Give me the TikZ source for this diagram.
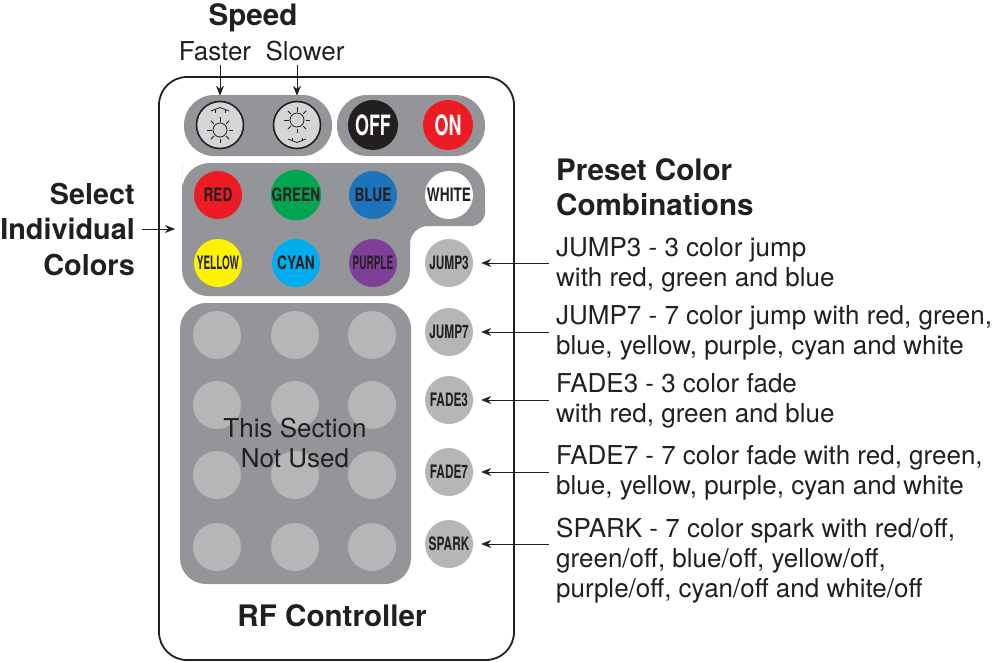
\documentclass[tikz,border=0pt]{standalone}
\usepackage{fontspec}
\usetikzlibrary{arrows.meta}
\setmainfont{TeX Gyre Heros}
\newfontfamily\condfont[FakeStretch=0.74]{TeX Gyre Heros}
\newfontfamily\tightfont[FakeStretch=0.64]{TeX Gyre Heros}
\newfontfamily\tightestfont[FakeStretch=0.54]{TeX Gyre Heros}
\definecolor{panelgray}{HTML}{939598}
\definecolor{keygray}{HTML}{B5B6B8}
\definecolor{sungray}{HTML}{D4D5D6}
\definecolor{textdark}{HTML}{231F20}
\definecolor{keyred}{HTML}{ED1C24}
\definecolor{keygreen}{HTML}{00A651}
\definecolor{keyblue}{HTML}{1C75BC}
\definecolor{keyyellow}{HTML}{FFF200}
\definecolor{keycyan}{HTML}{00AEEF}
\definecolor{keypurple}{HTML}{7F3F98}
\tikzset{
    key/.style={circle,minimum size=48pt,inner sep=0pt,fill=keygray,text=textdark,font=\tightfont\bfseries\fontsize{18.5}{18.5}\selectfont},
    wide key/.style={key,font=\condfont\bfseries\fontsize{18.5}{18.5}\selectfont},
    narrow key/.style={key,font=\tightestfont\bfseries\fontsize{18.5}{18.5}\selectfont},
    blank/.style={circle,minimum size=48pt,inner sep=0pt,fill=keygray},
    sun/.style={circle,minimum size=47pt,inner sep=0pt,fill=sungray,draw=textdark,line width=1.6pt},
    power/.style={circle,minimum size=50pt,inner sep=0pt,text=white,font=\tightfont\bfseries\fontsize{28}{28}\selectfont},
    heading/.style={font=\bfseries\fontsize{29.6}{35}\selectfont,text=textdark},
    label/.style={text=textdark,font=\fontsize{26}{26}\selectfont},
    note/.style={align=left,anchor=west,inner sep=0pt,text=textdark,font=\fontsize{26}{30}\selectfont},
    pointer/.style={-{Stealth[length=10pt,width=8pt]},line width=0.9pt,textdark},
}
\newcommand{\sunmark}[2]{% centre of the sun, then the side of the bracket
    \draw[textdark,line width=0.8pt] (#1) ++(0,-#2*5) circle (7);
    \foreach \ang in {0,45,...,315}
        \draw[textdark,line width=0.8pt] (#1) ++(0,-#2*5) ++(\ang:8.5) -- ++(\ang:4.5);
    \draw[textdark,line width=0.8pt] (#1) ++(-9,#2*14) -- ++(9,#2*3.5) -- ++(9,-#2*3.5);
    \draw[textdark,line width=0.8pt] (#1) ++(-5,#2*15.5) -- ++(0,-#2*3) ++(10,#2*3) -- ++(0,-#2*3);
}
\begin{document}
\begin{tikzpicture}[x=1pt,y=-1pt]
    \useasboundingbox (0,0) rectangle (1000,661);
    % controller body
    \draw[textdark,line width=1.8pt,rounded corners=28pt,fill=white] (159,77) rectangle (514,660);
    \fill[panelgray,rounded corners=30pt] (184,95) rectangle (332,156);
    \fill[panelgray,rounded corners=30pt] (337,95) rectangle (485,156);
    \fill[panelgray,rounded corners=28pt] (182,190) -- (182,163) -- (485,163) [rounded corners=14pt] -- (485,226)
        [rounded corners=18pt] -- (410,226) [rounded corners=26pt] -- (410,296) -- (182,296) -- cycle;
    \fill[panelgray,rounded corners=26pt] (180,303) rectangle (411,584);

    \node[sun] (faster) at (220,125) {};
    \node[sun] (slower) at (297,125) {};
    \sunmark{faster.center}{-1}
    \sunmark{slower.center}{1}
    \node[power,fill=textdark] (off) at (373,125) {OFF};
    \node[power,fill=keyred] (on) at (448,125) {ON};

    \node[wide key,fill=keyred] (red) at (218,195) {RED};
    \node[wide key,fill=keygreen] (green) at (296,195) {GREEN};
    \node[wide key,fill=keyblue] (blue) at (373,195) {BLUE};
    \node[wide key,fill=white] (white) at (449,195) {WHITE};
    \node[narrow key,fill=keyyellow] (yellow) at (218,263) {YELLOW};
    \node[wide key,fill=keycyan] (cyan) at (296,263) {CYAN};
    \node[narrow key,fill=keypurple] (purple) at (373,263) {PURPLE};

    \node[key] (jump3) at (449,263) {JUMP3};
    \node[key] (jump7) at (449,332) {JUMP7};
    \node[key] (fade3) at (449,400) {FADE3};
    \node[key] (fade7) at (449,472) {FADE7};
    \node[key] (spark) at (449,544) {SPARK};

    % unused keys
    \foreach \y [count=\r] in {335,405,475,547}
        \foreach \x [count=\c] in {217,295,372}
            \node[blank] (unused\r\c) at (\x,\y) {};
    \node[align=center,text=textdark,font=\fontsize{26}{30}\selectfont] (unused) at (295,443) {This Section\\Not Used};
    \node[heading] (rf) at (332,616) {RF Controller};

    % speed labels
    \node[heading] (speed) at (253,18) {Speed};
    \node[label] (fasterlabel) at (215,51) {Faster};
    \node[label] (slowerlabel) at (305,51) {Slower};
    \coordinate (fasterstart) at (220,65);
    \coordinate (slowerstart) at (297,65);
    \draw[pointer,shorten >=5pt] (fasterstart) -- (faster.north);
    \draw[pointer,shorten >=5pt] (slowerstart) -- (slower.north);

    % colour selection label
    \node[heading,align=right,anchor=east,inner sep=0pt,font=\bfseries\fontsize{28.8}{35.5}\selectfont] (select) at (135,229) {Select\\Individual\\Colors};
    \coordinate (selectstart) at (142,229);
    \coordinate (selectend) at (175,229);
    \draw[pointer] (selectstart) -- (selectend);

    % presets
    \node[heading,align=left,anchor=west,inner sep=0pt,font=\bfseries\fontsize{29.6}{35}\selectfont] (preset) at (556,187) {Preset Color\\Combinations};
    \node[note] (jump3text) at (556,265) {JUMP3 - 3 color jump\\with red, green and blue};
    \node[note] (jump7text) at (556,333) {JUMP7 - 7 color jump with red, green,\\blue, yellow, purple, cyan and white};
    \node[note] (fade3text) at (556,401) {FADE3 - 3 color fade\\with red, green and blue};
    \node[note] (fade7text) at (556,473) {FADE7 - 7 color fade with red, green,\\blue, yellow, purple, cyan and white};
    \node[note] (sparktext) at (556,561) {SPARK - 7 color spark with red/off,\\green/off, blue/off, yellow/off,\\purple/off, cyan/off and white/off};
    \coordinate (jump3start) at (549,263);
    \coordinate (jump7start) at (549,332);
    \coordinate (fade3start) at (549,400);
    \coordinate (fade7start) at (549,472);
    \coordinate (sparkstart) at (549,544);
    \draw[pointer,shorten >=8pt] (jump3start) -- (jump3);
    \draw[pointer,shorten >=8pt] (jump7start) -- (jump7);
    \draw[pointer,shorten >=8pt] (fade3start) -- (fade3);
    \draw[pointer,shorten >=8pt] (fade7start) -- (fade7);
    \draw[pointer,shorten >=8pt] (sparkstart) -- (spark);
\end{tikzpicture}
\end{document}
